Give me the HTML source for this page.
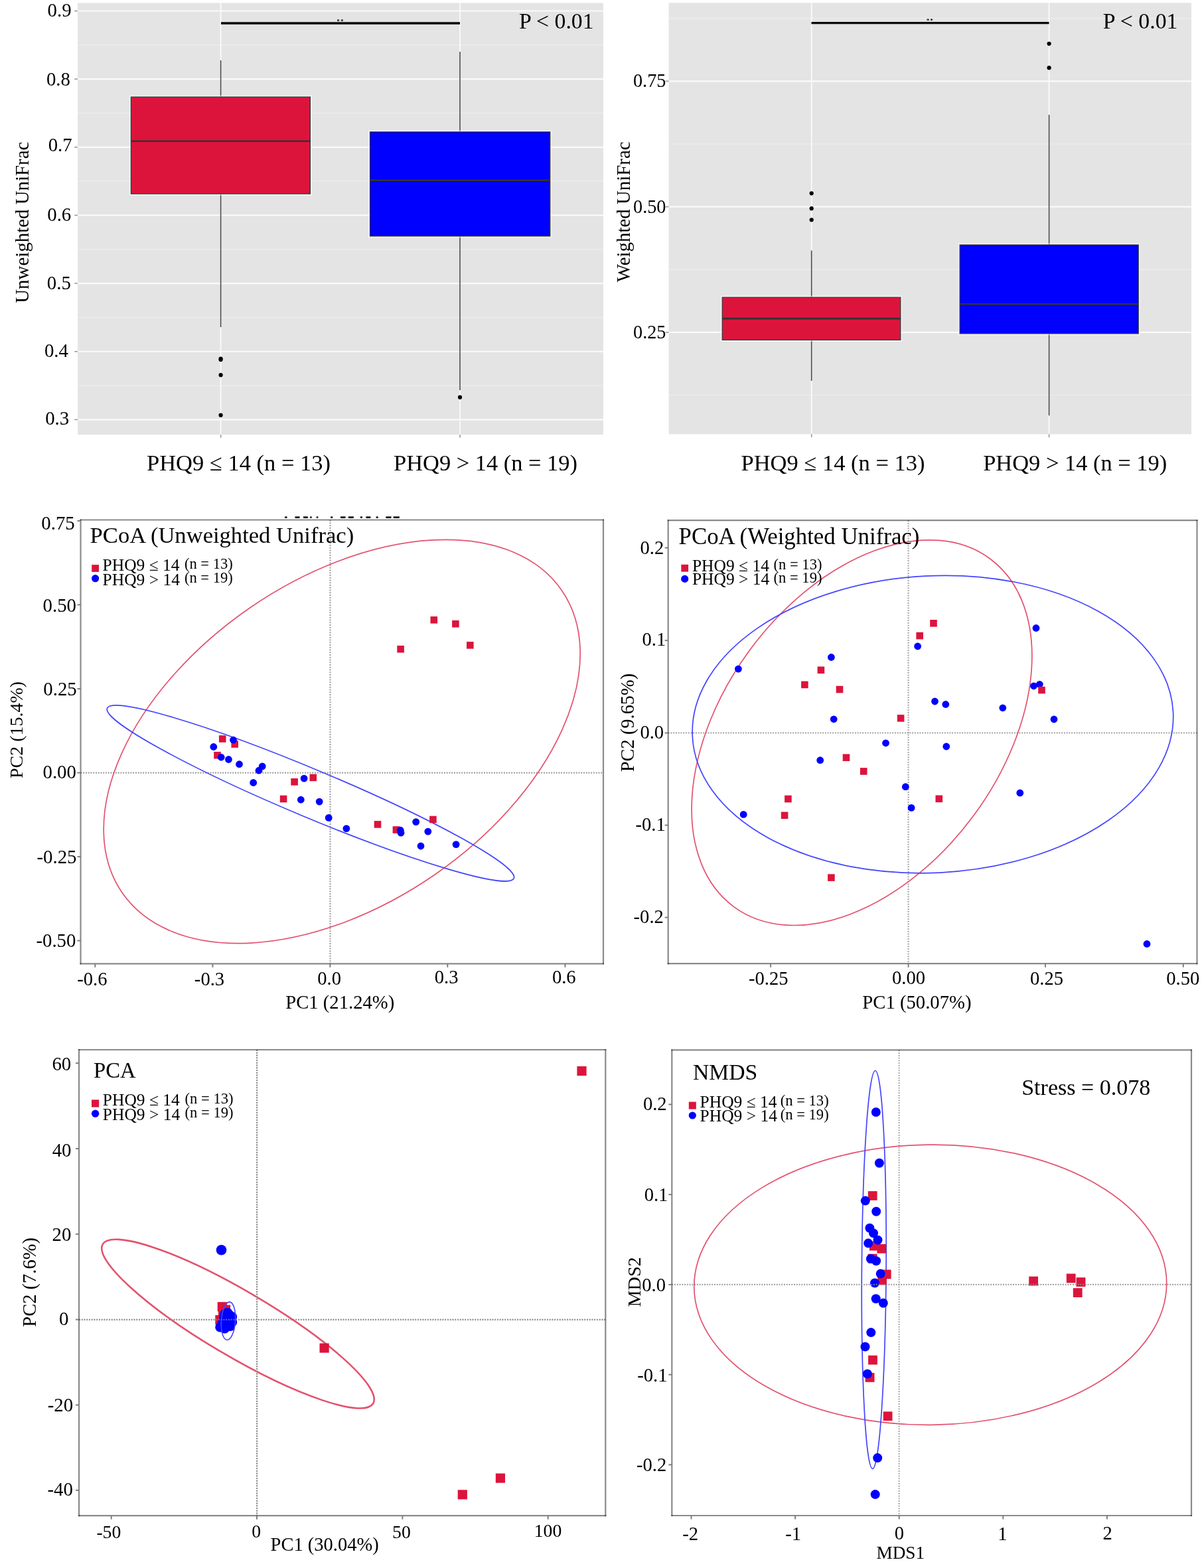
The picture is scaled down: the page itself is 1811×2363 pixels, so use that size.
<!DOCTYPE html>
<html><head><meta charset="utf-8"><title>Figure</title>
<style>html,body{margin:0;padding:0;background:#fff;} svg{display:block;}</style>
</head><body>
<svg width="1811" height="2363" viewBox="0 0 1811 2363">
<rect width="1811" height="2363" fill="#fff"/>
<g font-family='"Liberation Serif", "Times New Roman", serif' fill="#000">
<rect x="117" y="4.5" width="792" height="650.5" fill="#E4E4E4"/>
<line x1="117.00" y1="67.83" x2="909.00" y2="67.83" stroke="#EEEEEE" stroke-width="1.2" />
<line x1="117.00" y1="170.48" x2="909.00" y2="170.48" stroke="#EEEEEE" stroke-width="1.2" />
<line x1="117.00" y1="273.12" x2="909.00" y2="273.12" stroke="#EEEEEE" stroke-width="1.2" />
<line x1="117.00" y1="375.78" x2="909.00" y2="375.78" stroke="#EEEEEE" stroke-width="1.2" />
<line x1="117.00" y1="478.43" x2="909.00" y2="478.43" stroke="#EEEEEE" stroke-width="1.2" />
<line x1="117.00" y1="581.08" x2="909.00" y2="581.08" stroke="#EEEEEE" stroke-width="1.2" />
<line x1="117.00" y1="16.50" x2="909.00" y2="16.50" stroke="#FAFAFA" stroke-width="2.2" />
<line x1="117.00" y1="119.15" x2="909.00" y2="119.15" stroke="#FAFAFA" stroke-width="2.2" />
<line x1="117.00" y1="221.80" x2="909.00" y2="221.80" stroke="#FAFAFA" stroke-width="2.2" />
<line x1="117.00" y1="324.45" x2="909.00" y2="324.45" stroke="#FAFAFA" stroke-width="2.2" />
<line x1="117.00" y1="427.10" x2="909.00" y2="427.10" stroke="#FAFAFA" stroke-width="2.2" />
<line x1="117.00" y1="529.75" x2="909.00" y2="529.75" stroke="#FAFAFA" stroke-width="2.2" />
<line x1="117.00" y1="632.40" x2="909.00" y2="632.40" stroke="#FAFAFA" stroke-width="2.2" />
<line x1="332.60" y1="4.50" x2="332.60" y2="655.00" stroke="#FAFAFA" stroke-width="1.8" />
<line x1="693.00" y1="4.50" x2="693.00" y2="655.00" stroke="#FAFAFA" stroke-width="1.8" />
<line x1="112.20" y1="16.50" x2="117.00" y2="16.50" stroke="#9a9a9a" stroke-width="1.6" />
<line x1="112.20" y1="119.15" x2="117.00" y2="119.15" stroke="#9a9a9a" stroke-width="1.6" />
<line x1="112.20" y1="221.80" x2="117.00" y2="221.80" stroke="#9a9a9a" stroke-width="1.6" />
<line x1="112.20" y1="324.45" x2="117.00" y2="324.45" stroke="#9a9a9a" stroke-width="1.6" />
<line x1="112.20" y1="427.10" x2="117.00" y2="427.10" stroke="#9a9a9a" stroke-width="1.6" />
<line x1="112.20" y1="529.75" x2="117.00" y2="529.75" stroke="#9a9a9a" stroke-width="1.6" />
<line x1="112.20" y1="632.40" x2="117.00" y2="632.40" stroke="#9a9a9a" stroke-width="1.6" />
<line x1="332.60" y1="655.00" x2="332.60" y2="659.80" stroke="#9a9a9a" stroke-width="1.6" />
<line x1="693.00" y1="655.00" x2="693.00" y2="659.80" stroke="#9a9a9a" stroke-width="1.6" />
<text x="71.59" y="24.50" font-size="30.0" textLength="36.00" lengthAdjust="spacingAndGlyphs">0.9</text>
<text x="69.90" y="129.40" font-size="30.0" textLength="36.00" lengthAdjust="spacingAndGlyphs">0.8</text>
<text x="72.66" y="228.40" font-size="30.0" textLength="36.00" lengthAdjust="spacingAndGlyphs">0.7</text>
<text x="71.24" y="332.75" font-size="30.0" textLength="36.00" lengthAdjust="spacingAndGlyphs">0.6</text>
<text x="70.79" y="435.50" font-size="30.0" textLength="36.00" lengthAdjust="spacingAndGlyphs">0.5</text>
<text x="66.93" y="537.60" font-size="30.0" textLength="36.00" lengthAdjust="spacingAndGlyphs">0.4</text>
<text x="68.14" y="639.55" font-size="30.0" textLength="36.00" lengthAdjust="spacingAndGlyphs">0.3</text>
<line x1="332.60" y1="91.00" x2="332.60" y2="146.10" stroke="#4a4a4a" stroke-width="1.6" />
<line x1="332.60" y1="292.10" x2="332.60" y2="493.00" stroke="#4a4a4a" stroke-width="1.6" />
<rect x="197.40" y="146.10" width="270.00" height="146.00" fill="none" stroke="#fff" stroke-width="5" stroke-opacity="0.5"/>
<rect x="197.40" y="146.10" width="270.00" height="146.00" fill="#DC143C" stroke="#333" stroke-width="1.2"/>
<line x1="197.40" y1="212.70" x2="467.40" y2="212.70" stroke="#333" stroke-width="2.6" />
<circle cx="332.60" cy="540.60" r="3.1" fill="#000"/>
<circle cx="332.60" cy="542.00" r="3.1" fill="#000"/>
<circle cx="332.60" cy="565.20" r="3.1" fill="#000"/>
<circle cx="332.60" cy="625.70" r="3.1" fill="#000"/>
<line x1="693.00" y1="78.00" x2="693.00" y2="198.80" stroke="#4a4a4a" stroke-width="1.6" />
<line x1="693.00" y1="355.90" x2="693.00" y2="588.00" stroke="#4a4a4a" stroke-width="1.6" />
<rect x="557.50" y="198.80" width="271.30" height="157.10" fill="none" stroke="#fff" stroke-width="5" stroke-opacity="0.5"/>
<rect x="557.50" y="198.80" width="271.30" height="157.10" fill="#0000FF" stroke="#333" stroke-width="1.2"/>
<line x1="557.50" y1="271.70" x2="828.80" y2="271.70" stroke="#333" stroke-width="2.6" />
<circle cx="693.00" cy="598.70" r="3.1" fill="#000"/>
<line x1="333.00" y1="35.00" x2="693.00" y2="35.00" stroke="#0a0a0a" stroke-width="3.3" />
<text x="507.6" y="34.9" font-size="8.5" text-anchor="start" font-weight="bold" letter-spacing="1.4">**</text>
<text x="782.0" y="43.4" font-size="33.8" text-anchor="start" >P &lt; 0.01</text>
<text x="43.1" y="335.2" font-size="28.9" text-anchor="middle" transform="rotate(-90 43.1 335.2)" >Unweighted UniFrac</text>
<text x="221.0" y="708.6" font-size="34.5" text-anchor="start" >PHQ9 ≤ 14 (n = 13)</text>
<text x="593.0" y="708.6" font-size="34.45" text-anchor="start" >PHQ9 &gt; 14 (n = 19)</text>
<rect x="1007.5" y="4.3" width="787.5" height="650.0" fill="#E4E4E4"/>
<line x1="1007.50" y1="27.60" x2="1795.00" y2="27.60" stroke="#EEEEEE" stroke-width="1.2" />
<line x1="1007.50" y1="217.00" x2="1795.00" y2="217.00" stroke="#EEEEEE" stroke-width="1.2" />
<line x1="1007.50" y1="406.20" x2="1795.00" y2="406.20" stroke="#EEEEEE" stroke-width="1.2" />
<line x1="1007.50" y1="595.50" x2="1795.00" y2="595.50" stroke="#EEEEEE" stroke-width="1.2" />
<line x1="1007.50" y1="122.30" x2="1795.00" y2="122.30" stroke="#FAFAFA" stroke-width="2.2" />
<line x1="1007.50" y1="311.60" x2="1795.00" y2="311.60" stroke="#FAFAFA" stroke-width="2.2" />
<line x1="1007.50" y1="500.90" x2="1795.00" y2="500.90" stroke="#FAFAFA" stroke-width="2.2" />
<line x1="1222.70" y1="4.30" x2="1222.70" y2="654.30" stroke="#FAFAFA" stroke-width="1.8" />
<line x1="1580.60" y1="4.30" x2="1580.60" y2="654.30" stroke="#FAFAFA" stroke-width="1.8" />
<line x1="1002.70" y1="122.30" x2="1007.50" y2="122.30" stroke="#9a9a9a" stroke-width="1.6" />
<line x1="1002.70" y1="311.60" x2="1007.50" y2="311.60" stroke="#9a9a9a" stroke-width="1.6" />
<line x1="1002.70" y1="500.90" x2="1007.50" y2="500.90" stroke="#9a9a9a" stroke-width="1.6" />
<line x1="1222.70" y1="654.30" x2="1222.70" y2="659.10" stroke="#9a9a9a" stroke-width="1.6" />
<line x1="1580.60" y1="654.30" x2="1580.60" y2="659.10" stroke="#9a9a9a" stroke-width="1.6" />
<text x="953.99" y="130.56" font-size="29.4" textLength="49.39" lengthAdjust="spacingAndGlyphs">0.75</text>
<text x="954.05" y="321.26" font-size="29.4" textLength="49.39" lengthAdjust="spacingAndGlyphs">0.50</text>
<text x="954.09" y="510.06" font-size="29.4" textLength="49.39" lengthAdjust="spacingAndGlyphs">0.25</text>
<line x1="1222.70" y1="377.60" x2="1222.70" y2="448.10" stroke="#4a4a4a" stroke-width="1.6" />
<line x1="1222.70" y1="512.30" x2="1222.70" y2="573.80" stroke="#4a4a4a" stroke-width="1.6" />
<rect x="1088.20" y="448.10" width="268.60" height="64.20" fill="none" stroke="#fff" stroke-width="5" stroke-opacity="0.5"/>
<rect x="1088.20" y="448.10" width="268.60" height="64.20" fill="#DC143C" stroke="#333" stroke-width="1.2"/>
<line x1="1088.20" y1="480.10" x2="1356.80" y2="480.10" stroke="#333" stroke-width="2.6" />
<circle cx="1222.70" cy="291.30" r="3.1" fill="#000"/>
<circle cx="1222.70" cy="314.20" r="3.1" fill="#000"/>
<circle cx="1222.70" cy="331.30" r="3.1" fill="#000"/>
<line x1="1580.60" y1="173.00" x2="1580.60" y2="369.00" stroke="#4a4a4a" stroke-width="1.6" />
<line x1="1580.60" y1="502.80" x2="1580.60" y2="626.20" stroke="#4a4a4a" stroke-width="1.6" />
<rect x="1446.10" y="369.00" width="269.10" height="133.80" fill="none" stroke="#fff" stroke-width="5" stroke-opacity="0.5"/>
<rect x="1446.10" y="369.00" width="269.10" height="133.80" fill="#0000FF" stroke="#333" stroke-width="1.2"/>
<line x1="1446.10" y1="458.20" x2="1715.20" y2="458.20" stroke="#333" stroke-width="2.6" />
<circle cx="1580.60" cy="65.80" r="3.1" fill="#000"/>
<circle cx="1580.60" cy="102.20" r="3.1" fill="#000"/>
<line x1="1222.50" y1="34.60" x2="1580.50" y2="34.60" stroke="#0a0a0a" stroke-width="3.3" />
<text x="1395.9" y="34.4" font-size="8.5" text-anchor="start" font-weight="bold" letter-spacing="1.4">**</text>
<text x="1661.8" y="42.9" font-size="33.8" text-anchor="start" >P &lt; 0.01</text>
<text x="948.8" y="319.3" font-size="28.9" text-anchor="middle" transform="rotate(-90 948.8 319.3)" >Weighted UniFrac</text>
<text x="1116.5" y="708.6" font-size="34.5" text-anchor="start" >PHQ9 ≤ 14 (n = 13)</text>
<text x="1481.2" y="708.6" font-size="34.45" text-anchor="start" >PHQ9 &gt; 14 (n = 19)</text>
<clipPath id="c3"><rect x="121.5" y="783.5" width="787.5" height="668.8"/></clipPath>
<clipPath id="c4"><rect x="1006.7" y="784.2" width="796.8" height="668"/></clipPath>
<clipPath id="c5"><rect x="119" y="1582" width="793.3" height="702.2"/></clipPath>
<clipPath id="c6"><rect x="1012.3" y="1582.4" width="782.7" height="701.6"/></clipPath>
<line x1="497.50" y1="783.50" x2="497.50" y2="1452.30" stroke="#9c9c9c" stroke-width="2.1" stroke-dasharray="1.9 1.85"/>
<line x1="121.50" y1="1164.60" x2="909.00" y2="1164.60" stroke="#9c9c9c" stroke-width="2.1" stroke-dasharray="1.9 1.85"/>
<g clip-path="url(#c3)">
<ellipse cx="515.19" cy="1117.48" rx="401.94" ry="244.57" transform="rotate(-34.52 515.19 1117.48)" fill="none" stroke="#E3526E" stroke-width="1.7"/>
<ellipse cx="467.89" cy="1195.45" rx="36.04" ry="332.12" transform="rotate(-67.29 467.89 1195.45)" fill="none" stroke="#4444FF" stroke-width="1.7"/>
<rect x="329.90" y="1108.20" width="10.6" height="10.6" fill="#DC143C"/>
<rect x="348.40" y="1116.20" width="10.6" height="10.6" fill="#DC143C"/>
<rect x="322.20" y="1132.90" width="10.6" height="10.6" fill="#DC143C"/>
<rect x="438.30" y="1173.00" width="10.6" height="10.6" fill="#DC143C"/>
<rect x="466.50" y="1166.60" width="10.6" height="10.6" fill="#DC143C"/>
<rect x="421.80" y="1198.70" width="10.6" height="10.6" fill="#DC143C"/>
<rect x="648.50" y="929.00" width="10.6" height="10.6" fill="#DC143C"/>
<rect x="681.10" y="934.90" width="10.6" height="10.6" fill="#DC143C"/>
<rect x="598.30" y="973.00" width="10.6" height="10.6" fill="#DC143C"/>
<rect x="703.00" y="967.10" width="10.6" height="10.6" fill="#DC143C"/>
<rect x="563.70" y="1237.10" width="10.6" height="10.6" fill="#DC143C"/>
<rect x="591.60" y="1245.20" width="10.6" height="10.6" fill="#DC143C"/>
<rect x="647.10" y="1229.70" width="10.6" height="10.6" fill="#DC143C"/>
<circle cx="351.50" cy="1115.20" r="5.4" fill="#0000FF"/>
<circle cx="321.80" cy="1125.50" r="5.4" fill="#0000FF"/>
<circle cx="333.20" cy="1141.20" r="5.4" fill="#0000FF"/>
<circle cx="344.40" cy="1144.50" r="5.4" fill="#0000FF"/>
<circle cx="360.50" cy="1151.70" r="5.4" fill="#0000FF"/>
<circle cx="395.20" cy="1154.90" r="5.4" fill="#0000FF"/>
<circle cx="390.00" cy="1161.20" r="5.4" fill="#0000FF"/>
<circle cx="381.70" cy="1179.50" r="5.4" fill="#0000FF"/>
<circle cx="458.10" cy="1173.10" r="5.4" fill="#0000FF"/>
<circle cx="495.20" cy="1232.40" r="5.4" fill="#0000FF"/>
<circle cx="453.30" cy="1205.20" r="5.4" fill="#0000FF"/>
<circle cx="481.20" cy="1208.10" r="5.4" fill="#0000FF"/>
<circle cx="521.90" cy="1248.60" r="5.4" fill="#0000FF"/>
<circle cx="603.30" cy="1251.20" r="5.4" fill="#0000FF"/>
<circle cx="604.00" cy="1255.20" r="5.4" fill="#0000FF"/>
<circle cx="626.70" cy="1238.60" r="5.4" fill="#0000FF"/>
<circle cx="644.80" cy="1253.10" r="5.4" fill="#0000FF"/>
<circle cx="634.00" cy="1275.00" r="5.4" fill="#0000FF"/>
<circle cx="687.10" cy="1272.60" r="5.4" fill="#0000FF"/>
</g>
<line x1="120.50" y1="783.50" x2="910.00" y2="783.50" stroke="#000" stroke-width="2.2" stroke-opacity="0.46"/>
<line x1="909.00" y1="782.50" x2="909.00" y2="1453.30" stroke="#000" stroke-width="2.2" stroke-opacity="0.46"/>
<line x1="910.00" y1="1452.30" x2="120.50" y2="1452.30" stroke="#000" stroke-width="2.2" stroke-opacity="0.46"/>
<line x1="121.50" y1="1453.30" x2="121.50" y2="782.50" stroke="#000" stroke-width="2.2" stroke-opacity="0.46"/>
<line x1="116.50" y1="784.90" x2="121.50" y2="784.90" stroke="#7a7a7a" stroke-width="1.9" />
<line x1="116.50" y1="911.40" x2="121.50" y2="911.40" stroke="#7a7a7a" stroke-width="1.9" />
<line x1="116.50" y1="1038.00" x2="121.50" y2="1038.00" stroke="#7a7a7a" stroke-width="1.9" />
<line x1="116.50" y1="1164.60" x2="121.50" y2="1164.60" stroke="#7a7a7a" stroke-width="1.9" />
<line x1="116.50" y1="1291.10" x2="121.50" y2="1291.10" stroke="#7a7a7a" stroke-width="1.9" />
<line x1="116.50" y1="1417.60" x2="121.50" y2="1417.60" stroke="#7a7a7a" stroke-width="1.9" />
<line x1="143.30" y1="1452.30" x2="143.30" y2="1457.80" stroke="#7a7a7a" stroke-width="1.9" />
<line x1="320.40" y1="1452.30" x2="320.40" y2="1457.80" stroke="#7a7a7a" stroke-width="1.9" />
<line x1="497.40" y1="1452.30" x2="497.40" y2="1457.80" stroke="#7a7a7a" stroke-width="1.9" />
<line x1="674.30" y1="1452.30" x2="674.30" y2="1457.80" stroke="#7a7a7a" stroke-width="1.9" />
<line x1="851.50" y1="1452.30" x2="851.50" y2="1457.80" stroke="#7a7a7a" stroke-width="1.9" />
<text x="62.35" y="797.75" font-size="30.3" textLength="50.37" lengthAdjust="spacingAndGlyphs">0.75</text>
<text x="64.56" y="921.65" font-size="30.3" textLength="50.37" lengthAdjust="spacingAndGlyphs">0.50</text>
<text x="65.35" y="1048.25" font-size="30.3" textLength="50.37" lengthAdjust="spacingAndGlyphs">0.25</text>
<text x="64.51" y="1172.90" font-size="30.3" textLength="50.37" lengthAdjust="spacingAndGlyphs">0.00</text>
<text x="55.51" y="1301.00" font-size="30.3" textLength="59.96" lengthAdjust="spacingAndGlyphs">-0.25</text>
<text x="54.43" y="1427.35" font-size="30.3" textLength="59.96" lengthAdjust="spacingAndGlyphs">-0.50</text>
<text x="116.27" y="1484.68" font-size="30.1" textLength="45.27" lengthAdjust="spacingAndGlyphs">-0.6</text>
<text x="292.86" y="1484.93" font-size="30.1" textLength="45.27" lengthAdjust="spacingAndGlyphs">-0.3</text>
<text x="478.33" y="1483.73" font-size="30.1" textLength="35.74" lengthAdjust="spacingAndGlyphs">0.0</text>
<text x="654.81" y="1482.03" font-size="30.1" textLength="35.74" lengthAdjust="spacingAndGlyphs">0.3</text>
<text x="831.92" y="1481.68" font-size="30.1" textLength="35.74" lengthAdjust="spacingAndGlyphs">0.6</text>
<text x="430.3" y="1519.6" font-size="28.65" text-anchor="start" >PC1 (21.24%)</text>
<text x="33.5" y="1100.0" font-size="28.0" text-anchor="middle" transform="rotate(-90 33.5 1100.0)" >PC2 (15.4%)</text>
<text x="135.6" y="818.0" font-size="34.6" text-anchor="start" >PCoA (Unweighted Unifrac)</text>
<rect x="138.20" y="851.10" width="10.8" height="10.8" fill="#DC143C"/>
<circle cx="143.60" cy="871.70" r="5.6" fill="#0000FF"/>
<text x="154.6" y="860.3" font-size="25.5" text-anchor="start" >PHQ9 ≤ 14</text>
<text x="154.6" y="881.5" font-size="25.5" text-anchor="start" >PHQ9 &gt; 14</text>
<text x="277.9" y="857.3" font-size="22.5" text-anchor="start" textLength="73" lengthAdjust="spacingAndGlyphs">(n = 13)</text>
<text x="277.9" y="878.0" font-size="22.5" text-anchor="start" textLength="73" lengthAdjust="spacingAndGlyphs">(n = 19)</text>
<line x1="430.2" y1="779.6" x2="431.5" y2="779.6" stroke="#1a1a1a" stroke-width="2.6" stroke-linecap="round"/>
<line x1="445.5" y1="779.6" x2="450.5" y2="779.6" stroke="#1a1a1a" stroke-width="2.6" stroke-linecap="round"/>
<line x1="458.0" y1="779.6" x2="462.9" y2="779.6" stroke="#1a1a1a" stroke-width="2.6" stroke-linecap="round"/>
<line x1="468.2" y1="779.6" x2="468.6" y2="779.6" stroke="#1a1a1a" stroke-width="2.6" stroke-linecap="round"/>
<line x1="477.8" y1="779.6" x2="478.2" y2="779.6" stroke="#1a1a1a" stroke-width="2.6" stroke-linecap="round"/>
<line x1="499.2" y1="779.6" x2="500.2" y2="779.6" stroke="#1a1a1a" stroke-width="2.6" stroke-linecap="round"/>
<line x1="514.0" y1="779.6" x2="519.5" y2="779.6" stroke="#1a1a1a" stroke-width="2.6" stroke-linecap="round"/>
<line x1="525.8" y1="779.6" x2="531.9" y2="779.6" stroke="#1a1a1a" stroke-width="2.6" stroke-linecap="round"/>
<line x1="543.9" y1="779.6" x2="544.9" y2="779.6" stroke="#1a1a1a" stroke-width="2.6" stroke-linecap="round"/>
<line x1="552.4" y1="779.6" x2="557.4" y2="779.6" stroke="#1a1a1a" stroke-width="2.6" stroke-linecap="round"/>
<line x1="567.7" y1="779.6" x2="568.7" y2="779.6" stroke="#1a1a1a" stroke-width="2.6" stroke-linecap="round"/>
<line x1="582.4" y1="779.6" x2="588.5" y2="779.6" stroke="#1a1a1a" stroke-width="2.6" stroke-linecap="round"/>
<line x1="593.7" y1="779.6" x2="600.9" y2="779.6" stroke="#1a1a1a" stroke-width="2.6" stroke-linecap="round"/>
<line x1="1368.60" y1="784.20" x2="1368.60" y2="1452.20" stroke="#9c9c9c" stroke-width="2.1" stroke-dasharray="1.9 1.85"/>
<line x1="1006.70" y1="1104.50" x2="1803.50" y2="1104.50" stroke="#9c9c9c" stroke-width="2.1" stroke-dasharray="1.9 1.85"/>
<g clip-path="url(#c4)">
<ellipse cx="1298.48" cy="1104.15" rx="209.75" ry="325.62" transform="rotate(-143.70 1298.48 1104.15)" fill="none" stroke="#E3526E" stroke-width="1.7"/>
<ellipse cx="1405.42" cy="1091.56" rx="362.59" ry="223.77" transform="rotate(-2.92 1405.42 1091.56)" fill="none" stroke="#4444FF" stroke-width="1.7"/>
<circle cx="1112.40" cy="1008.10" r="5.4" fill="#0000FF"/>
<circle cx="1252.40" cy="990.50" r="5.4" fill="#0000FF"/>
<circle cx="1256.20" cy="1083.80" r="5.4" fill="#0000FF"/>
<circle cx="1382.60" cy="974.00" r="5.4" fill="#0000FF"/>
<circle cx="1561.00" cy="946.50" r="5.4" fill="#0000FF"/>
<circle cx="1557.50" cy="1033.80" r="5.4" fill="#0000FF"/>
<circle cx="1566.30" cy="1031.30" r="5.4" fill="#0000FF"/>
<circle cx="1408.50" cy="1057.00" r="5.4" fill="#0000FF"/>
<circle cx="1424.80" cy="1061.50" r="5.4" fill="#0000FF"/>
<circle cx="1510.80" cy="1066.80" r="5.4" fill="#0000FF"/>
<circle cx="1588.00" cy="1084.00" r="5.4" fill="#0000FF"/>
<circle cx="1235.70" cy="1145.70" r="5.4" fill="#0000FF"/>
<circle cx="1334.50" cy="1119.80" r="5.4" fill="#0000FF"/>
<circle cx="1364.30" cy="1185.70" r="5.4" fill="#0000FF"/>
<circle cx="1373.10" cy="1217.40" r="5.4" fill="#0000FF"/>
<circle cx="1120.20" cy="1227.40" r="5.4" fill="#0000FF"/>
<circle cx="1425.80" cy="1125.00" r="5.4" fill="#0000FF"/>
<circle cx="1536.80" cy="1195.00" r="5.4" fill="#0000FF"/>
<circle cx="1728.00" cy="1422.50" r="5.4" fill="#0000FF"/>
<rect x="1231.60" y="1004.50" width="10.6" height="10.6" fill="#DC143C"/>
<rect x="1207.10" y="1026.60" width="10.6" height="10.6" fill="#DC143C"/>
<rect x="1259.70" y="1033.70" width="10.6" height="10.6" fill="#DC143C"/>
<rect x="1351.80" y="1077.10" width="10.6" height="10.6" fill="#DC143C"/>
<rect x="1380.40" y="952.80" width="10.6" height="10.6" fill="#DC143C"/>
<rect x="1401.20" y="934.00" width="10.6" height="10.6" fill="#DC143C"/>
<rect x="1564.20" y="1034.70" width="10.6" height="10.6" fill="#DC143C"/>
<rect x="1269.70" y="1136.40" width="10.6" height="10.6" fill="#DC143C"/>
<rect x="1295.90" y="1157.10" width="10.6" height="10.6" fill="#DC143C"/>
<rect x="1182.10" y="1198.70" width="10.6" height="10.6" fill="#DC143C"/>
<rect x="1176.80" y="1223.50" width="10.6" height="10.6" fill="#DC143C"/>
<rect x="1247.10" y="1317.30" width="10.6" height="10.6" fill="#DC143C"/>
<rect x="1409.50" y="1198.50" width="10.6" height="10.6" fill="#DC143C"/>
</g>
<line x1="1005.70" y1="784.20" x2="1804.50" y2="784.20" stroke="#000" stroke-width="2.2" stroke-opacity="0.46"/>
<line x1="1803.50" y1="783.20" x2="1803.50" y2="1453.20" stroke="#000" stroke-width="2.2" stroke-opacity="0.46"/>
<line x1="1804.50" y1="1452.20" x2="1005.70" y2="1452.20" stroke="#000" stroke-width="2.2" stroke-opacity="0.46"/>
<line x1="1006.70" y1="1453.20" x2="1006.70" y2="783.20" stroke="#000" stroke-width="2.2" stroke-opacity="0.46"/>
<line x1="1001.70" y1="825.50" x2="1006.70" y2="825.50" stroke="#7a7a7a" stroke-width="1.9" />
<line x1="1001.70" y1="965.20" x2="1006.70" y2="965.20" stroke="#7a7a7a" stroke-width="1.9" />
<line x1="1001.70" y1="1104.60" x2="1006.70" y2="1104.60" stroke="#7a7a7a" stroke-width="1.9" />
<line x1="1001.70" y1="1243.60" x2="1006.70" y2="1243.60" stroke="#7a7a7a" stroke-width="1.9" />
<line x1="1001.70" y1="1382.60" x2="1006.70" y2="1382.60" stroke="#7a7a7a" stroke-width="1.9" />
<line x1="1161.10" y1="1452.20" x2="1161.10" y2="1457.70" stroke="#7a7a7a" stroke-width="1.9" />
<line x1="1368.60" y1="1452.20" x2="1368.60" y2="1457.70" stroke="#7a7a7a" stroke-width="1.9" />
<line x1="1575.00" y1="1452.20" x2="1575.00" y2="1457.70" stroke="#7a7a7a" stroke-width="1.9" />
<line x1="1782.80" y1="1452.20" x2="1782.80" y2="1457.70" stroke="#7a7a7a" stroke-width="1.9" />
<text x="964.53" y="835.08" font-size="30.1" textLength="35.74" lengthAdjust="spacingAndGlyphs">0.2</text>
<text x="967.55" y="972.88" font-size="30.1" textLength="35.74" lengthAdjust="spacingAndGlyphs">0.1</text>
<text x="964.38" y="1112.58" font-size="30.1" textLength="35.74" lengthAdjust="spacingAndGlyphs">0.0</text>
<text x="957.45" y="1251.93" font-size="30.1" textLength="45.27" lengthAdjust="spacingAndGlyphs">-0.1</text>
<text x="954.60" y="1391.38" font-size="30.1" textLength="45.27" lengthAdjust="spacingAndGlyphs">-0.2</text>
<text x="1128.00" y="1483.63" font-size="29.8" textLength="59.59" lengthAdjust="spacingAndGlyphs">-0.25</text>
<text x="1343.97" y="1483.18" font-size="29.8" textLength="50.06" lengthAdjust="spacingAndGlyphs">0.00</text>
<text x="1551.95" y="1483.63" font-size="29.8" textLength="50.06" lengthAdjust="spacingAndGlyphs">0.25</text>
<text x="1757.27" y="1484.43" font-size="29.8" textLength="50.06" lengthAdjust="spacingAndGlyphs">0.50</text>
<text x="1299.3" y="1519.7" font-size="28.7" text-anchor="start" >PC1 (50.07%)</text>
<text x="955.3" y="1089.0" font-size="28.45" text-anchor="middle" transform="rotate(-90 955.3 1089.0)" >PC2 (9.65%)</text>
<text x="1022.6" y="820.0" font-size="34.85" text-anchor="start" >PCoA (Weighted Unifrac)</text>
<rect x="1026.30" y="850.80" width="10.8" height="10.8" fill="#DC143C"/>
<circle cx="1031.70" cy="872.40" r="5.6" fill="#0000FF"/>
<text x="1042.9" y="860.5" font-size="25.5" text-anchor="start" >PHQ9 ≤ 14</text>
<text x="1042.9" y="881.4" font-size="25.5" text-anchor="start" >PHQ9 &gt; 14</text>
<text x="1165.5" y="857.5" font-size="22.5" text-anchor="start" textLength="73" lengthAdjust="spacingAndGlyphs">(n = 13)</text>
<text x="1165.5" y="877.9" font-size="22.5" text-anchor="start" textLength="73" lengthAdjust="spacingAndGlyphs">(n = 19)</text>
<line x1="387.10" y1="1582.00" x2="387.10" y2="2284.20" stroke="#9c9c9c" stroke-width="2.1" stroke-dasharray="1.9 1.85"/>
<line x1="119.00" y1="1988.70" x2="912.30" y2="1988.70" stroke="#9c9c9c" stroke-width="2.1" stroke-dasharray="1.9 1.85"/>
<g clip-path="url(#c5)">
<ellipse cx="358.49" cy="1995.03" rx="49.23" ry="236.44" transform="rotate(-59.51 358.49 1995.03)" fill="none" stroke="#E3526E" stroke-width="2.6"/>
<rect x="869.40" y="1606.90" width="14.2" height="14.2" fill="#DC143C"/>
<rect x="689.70" y="2245.30" width="14.2" height="14.2" fill="#DC143C"/>
<rect x="746.80" y="2220.50" width="14.2" height="14.2" fill="#DC143C"/>
<rect x="481.50" y="2024.40" width="14.2" height="14.2" fill="#DC143C"/>
<rect x="327.70" y="1962.20" width="14.2" height="14.2" fill="#DC143C"/>
<rect x="324.30" y="1981.90" width="14.2" height="14.2" fill="#DC143C"/>
<rect x="332.90" y="1966.60" width="14.2" height="14.2" fill="#DC143C"/>
<rect x="337.80" y="1991.10" width="14.2" height="14.2" fill="#DC143C"/>
<rect x="332.90" y="1982.90" width="14.2" height="14.2" fill="#DC143C"/>
<rect x="337.90" y="1977.90" width="14.2" height="14.2" fill="#DC143C"/>
<rect x="330.90" y="1987.90" width="14.2" height="14.2" fill="#DC143C"/>
<rect x="335.90" y="1985.90" width="14.2" height="14.2" fill="#DC143C"/>
<rect x="328.90" y="1975.90" width="14.2" height="14.2" fill="#DC143C"/>
<circle cx="333.50" cy="1883.80" r="7.8" fill="#0000FF"/>
<circle cx="342.90" cy="1978.50" r="7.6" fill="#0000FF"/>
<circle cx="349.60" cy="1984.50" r="7.6" fill="#0000FF"/>
<circle cx="349.60" cy="1992.50" r="7.6" fill="#0000FF"/>
<circle cx="346.50" cy="1998.50" r="7.6" fill="#0000FF"/>
<circle cx="338.50" cy="2002.00" r="7.6" fill="#0000FF"/>
<circle cx="331.80" cy="2000.00" r="7.6" fill="#0000FF"/>
<circle cx="340.00" cy="1992.00" r="7.6" fill="#0000FF"/>
<circle cx="337.50" cy="1985.00" r="7.6" fill="#0000FF"/>
<circle cx="344.00" cy="1988.00" r="7.6" fill="#0000FF"/>
<circle cx="335.00" cy="1994.00" r="7.6" fill="#0000FF"/>
<circle cx="343.00" cy="1996.00" r="7.6" fill="#0000FF"/>
<circle cx="346.00" cy="1982.00" r="7.6" fill="#0000FF"/>
<circle cx="339.00" cy="1980.00" r="7.6" fill="#0000FF"/>
<ellipse cx="344" cy="1990.7" rx="10.6" ry="28.6" transform="rotate(4 344 1990.7)" fill="none" stroke="#4444FF" stroke-width="1.6"/>
</g>
<line x1="387.10" y1="1582.00" x2="387.10" y2="2284.20" stroke="#8a8a8a" stroke-width="2.1" stroke-dasharray="1.9 1.85" opacity="0.8"/>
<line x1="119.00" y1="1988.70" x2="912.30" y2="1988.70" stroke="#8a8a8a" stroke-width="2.1" stroke-dasharray="1.9 1.85" opacity="0.8"/>
<line x1="118.00" y1="1582.00" x2="913.30" y2="1582.00" stroke="#000" stroke-width="2.2" stroke-opacity="0.46"/>
<line x1="912.30" y1="1581.00" x2="912.30" y2="2285.20" stroke="#000" stroke-width="2.2" stroke-opacity="0.46"/>
<line x1="913.30" y1="2284.20" x2="118.00" y2="2284.20" stroke="#000" stroke-width="2.2" stroke-opacity="0.46"/>
<line x1="119.00" y1="2285.20" x2="119.00" y2="1581.00" stroke="#000" stroke-width="2.2" stroke-opacity="0.46"/>
<line x1="114.00" y1="1602.20" x2="119.00" y2="1602.20" stroke="#7a7a7a" stroke-width="1.9" />
<line x1="114.00" y1="1731.00" x2="119.00" y2="1731.00" stroke="#7a7a7a" stroke-width="1.9" />
<line x1="114.00" y1="1859.80" x2="119.00" y2="1859.80" stroke="#7a7a7a" stroke-width="1.9" />
<line x1="114.00" y1="1988.60" x2="119.00" y2="1988.60" stroke="#7a7a7a" stroke-width="1.9" />
<line x1="114.00" y1="2117.40" x2="119.00" y2="2117.40" stroke="#7a7a7a" stroke-width="1.9" />
<line x1="114.00" y1="2245.80" x2="119.00" y2="2245.80" stroke="#7a7a7a" stroke-width="1.9" />
<line x1="167.70" y1="2284.20" x2="167.70" y2="2289.70" stroke="#7a7a7a" stroke-width="1.9" />
<line x1="387.00" y1="2284.20" x2="387.00" y2="2289.70" stroke="#7a7a7a" stroke-width="1.9" />
<line x1="606.40" y1="2284.20" x2="606.40" y2="2289.70" stroke="#7a7a7a" stroke-width="1.9" />
<line x1="825.70" y1="2284.20" x2="825.70" y2="2289.70" stroke="#7a7a7a" stroke-width="1.9" />
<text x="78.38" y="1612.73" font-size="30.0" textLength="28.80" lengthAdjust="spacingAndGlyphs">60</text>
<text x="78.70" y="1743.48" font-size="30.0" textLength="28.80" lengthAdjust="spacingAndGlyphs">40</text>
<text x="78.53" y="1870.12" font-size="30.0" textLength="28.80" lengthAdjust="spacingAndGlyphs">20</text>
<text x="89.00" y="1996.73" font-size="30.0" textLength="14.40" lengthAdjust="spacingAndGlyphs">0</text>
<text x="71.76" y="2127.38" font-size="30.0" textLength="38.39" lengthAdjust="spacingAndGlyphs">-20</text>
<text x="71.46" y="2253.93" font-size="30.0" textLength="38.39" lengthAdjust="spacingAndGlyphs">-40</text>
<text x="145.39" y="2318.07" font-size="27.7" textLength="36.92" lengthAdjust="spacingAndGlyphs">-50</text>
<text x="379.27" y="2317.12" font-size="27.7" textLength="13.85" lengthAdjust="spacingAndGlyphs">0</text>
<text x="591.12" y="2317.57" font-size="27.7" textLength="27.70" lengthAdjust="spacingAndGlyphs">50</text>
<text x="804.73" y="2316.17" font-size="27.7" textLength="41.55" lengthAdjust="spacingAndGlyphs">100</text>
<text x="407.6" y="2337.1" font-size="28.5" text-anchor="start" >PC1 (30.04%)</text>
<text x="54.5" y="1932.4" font-size="28.5" text-anchor="middle" transform="rotate(-90 54.5 1932.4)" >PC2 (7.6%)</text>
<text x="141.0" y="1623.6" font-size="32.7" text-anchor="start" >PCA</text>
<rect x="138.00" y="1657.30" width="11.2" height="11.2" fill="#DC143C"/>
<circle cx="143.60" cy="1678.30" r="5.7" fill="#0000FF"/>
<text x="154.8" y="1666.4" font-size="25.5" text-anchor="start" >PHQ9 ≤ 14</text>
<text x="154.8" y="1687.9" font-size="25.5" text-anchor="start" >PHQ9 &gt; 14</text>
<text x="278.6" y="1663.4" font-size="22.5" text-anchor="start" textLength="73" lengthAdjust="spacingAndGlyphs">(n = 13)</text>
<text x="278.6" y="1684.4" font-size="22.5" text-anchor="start" textLength="73" lengthAdjust="spacingAndGlyphs">(n = 19)</text>
<g clip-path="url(#c6)">
<ellipse cx="1401.74" cy="1936.27" rx="355.96" ry="211.08" transform="rotate(-0.59 1401.74 1936.27)" fill="none" stroke="#E3526E" stroke-width="1.7"/>
<ellipse cx="1316.73" cy="1913.51" rx="18.38" ry="300.00" transform="rotate(-179.61 1316.73 1913.51)" fill="none" stroke="#4444FF" stroke-width="1.7"/>
<rect x="1307.80" y="1795.10" width="13.8" height="13.8" fill="#DC143C"/>
<rect x="1309.90" y="1870.80" width="13.8" height="13.8" fill="#DC143C"/>
<rect x="1321.40" y="1874.90" width="13.8" height="13.8" fill="#DC143C"/>
<rect x="1307.80" y="1889.70" width="13.8" height="13.8" fill="#DC143C"/>
<rect x="1328.80" y="1913.50" width="13.8" height="13.8" fill="#DC143C"/>
<rect x="1322.20" y="1922.50" width="13.8" height="13.8" fill="#DC143C"/>
<rect x="1308.10" y="2042.70" width="13.8" height="13.8" fill="#DC143C"/>
<rect x="1303.70" y="2069.00" width="13.8" height="13.8" fill="#DC143C"/>
<rect x="1330.70" y="2127.30" width="13.8" height="13.8" fill="#DC143C"/>
<rect x="1550.20" y="1923.70" width="13.8" height="13.8" fill="#DC143C"/>
<rect x="1606.80" y="1919.50" width="13.8" height="13.8" fill="#DC143C"/>
<rect x="1621.60" y="1925.20" width="13.8" height="13.8" fill="#DC143C"/>
<rect x="1616.80" y="1941.20" width="13.8" height="13.8" fill="#DC143C"/>
<circle cx="1319.80" cy="1676.00" r="7.0" fill="#0000FF"/>
<circle cx="1324.90" cy="1752.80" r="7.0" fill="#0000FF"/>
<circle cx="1303.80" cy="1809.60" r="7.0" fill="#0000FF"/>
<circle cx="1320.20" cy="1825.70" r="7.0" fill="#0000FF"/>
<circle cx="1310.40" cy="1850.80" r="7.0" fill="#0000FF"/>
<circle cx="1316.00" cy="1858.40" r="7.0" fill="#0000FF"/>
<circle cx="1322.50" cy="1868.70" r="7.0" fill="#0000FF"/>
<circle cx="1308.20" cy="1873.60" r="7.0" fill="#0000FF"/>
<circle cx="1311.90" cy="1897.00" r="7.0" fill="#0000FF"/>
<circle cx="1320.10" cy="1900.30" r="7.0" fill="#0000FF"/>
<circle cx="1326.70" cy="1919.60" r="7.0" fill="#0000FF"/>
<circle cx="1318.00" cy="1933.50" r="7.0" fill="#0000FF"/>
<circle cx="1319.70" cy="1957.20" r="7.0" fill="#0000FF"/>
<circle cx="1330.80" cy="1963.80" r="7.0" fill="#0000FF"/>
<circle cx="1312.30" cy="2008.10" r="7.0" fill="#0000FF"/>
<circle cx="1303.50" cy="2029.50" r="7.0" fill="#0000FF"/>
<circle cx="1306.90" cy="2070.50" r="7.0" fill="#0000FF"/>
<circle cx="1322.20" cy="2197.10" r="7.0" fill="#0000FF"/>
<circle cx="1318.70" cy="2252.10" r="7.0" fill="#0000FF"/>
</g>
<line x1="1354.60" y1="1582.40" x2="1354.60" y2="2284.00" stroke="#8a8a8a" stroke-width="2.1" stroke-dasharray="1.9 1.85" opacity="0.8"/>
<line x1="1012.30" y1="1935.90" x2="1795.00" y2="1935.90" stroke="#8a8a8a" stroke-width="2.1" stroke-dasharray="1.9 1.85" opacity="0.8"/>
<line x1="1011.30" y1="1582.40" x2="1796.00" y2="1582.40" stroke="#000" stroke-width="2.2" stroke-opacity="0.46"/>
<line x1="1795.00" y1="1581.40" x2="1795.00" y2="2285.00" stroke="#000" stroke-width="2.2" stroke-opacity="0.46"/>
<line x1="1796.00" y1="2284.00" x2="1011.30" y2="2284.00" stroke="#000" stroke-width="2.2" stroke-opacity="0.46"/>
<line x1="1012.30" y1="2285.00" x2="1012.30" y2="1581.40" stroke="#000" stroke-width="2.2" stroke-opacity="0.46"/>
<line x1="1007.30" y1="1664.40" x2="1012.30" y2="1664.40" stroke="#7a7a7a" stroke-width="1.9" />
<line x1="1007.30" y1="1800.20" x2="1012.30" y2="1800.20" stroke="#7a7a7a" stroke-width="1.9" />
<line x1="1007.30" y1="1935.90" x2="1012.30" y2="1935.90" stroke="#7a7a7a" stroke-width="1.9" />
<line x1="1007.30" y1="2071.60" x2="1012.30" y2="2071.60" stroke="#7a7a7a" stroke-width="1.9" />
<line x1="1007.30" y1="2207.40" x2="1012.30" y2="2207.40" stroke="#7a7a7a" stroke-width="1.9" />
<line x1="1041.50" y1="2284.00" x2="1041.50" y2="2289.50" stroke="#7a7a7a" stroke-width="1.9" />
<line x1="1198.10" y1="2284.00" x2="1198.10" y2="2289.50" stroke="#7a7a7a" stroke-width="1.9" />
<line x1="1354.70" y1="2284.00" x2="1354.70" y2="2289.50" stroke="#7a7a7a" stroke-width="1.9" />
<line x1="1511.30" y1="2284.00" x2="1511.30" y2="2289.50" stroke="#7a7a7a" stroke-width="1.9" />
<line x1="1667.90" y1="2284.00" x2="1667.90" y2="2289.50" stroke="#7a7a7a" stroke-width="1.9" />
<text x="968.88" y="1673.13" font-size="30.1" textLength="35.74" lengthAdjust="spacingAndGlyphs">0.2</text>
<text x="970.65" y="1810.08" font-size="30.1" textLength="35.74" lengthAdjust="spacingAndGlyphs">0.1</text>
<text x="967.28" y="1945.98" font-size="30.1" textLength="35.74" lengthAdjust="spacingAndGlyphs">0.0</text>
<text x="960.25" y="2081.53" font-size="30.1" textLength="45.27" lengthAdjust="spacingAndGlyphs">-0.1</text>
<text x="958.97" y="2217.28" font-size="30.1" textLength="45.27" lengthAdjust="spacingAndGlyphs">-0.2</text>
<text x="1028.19" y="2320.97" font-size="29.8" textLength="23.83" lengthAdjust="spacingAndGlyphs">-2</text>
<text x="1183.26" y="2320.88" font-size="29.8" textLength="23.83" lengthAdjust="spacingAndGlyphs">-1</text>
<text x="1347.85" y="2320.11" font-size="29.8" textLength="14.30" lengthAdjust="spacingAndGlyphs">0</text>
<text x="1503.15" y="2321.08" font-size="29.8" textLength="14.30" lengthAdjust="spacingAndGlyphs">1</text>
<text x="1661.43" y="2319.82" font-size="29.8" textLength="14.30" lengthAdjust="spacingAndGlyphs">2</text>
<text x="1320.4" y="2349.0" font-size="27.3" text-anchor="start" >MDS1</text>
<text x="965.1" y="1931.9" font-size="28.2" text-anchor="middle" transform="rotate(-90 965.1 1931.9)" >MDS2</text>
<text x="1043.9" y="1626.8" font-size="33.7" text-anchor="start" >NMDS</text>
<text x="1539.2" y="1649.7" font-size="34.05" text-anchor="start" >Stress = 0.078</text>
<rect x="1037.80" y="1660.50" width="11.0" height="11.0" fill="#DC143C"/>
<circle cx="1043.30" cy="1681.00" r="5.6" fill="#0000FF"/>
<text x="1054.6" y="1669.0" font-size="25.5" text-anchor="start" >PHQ9 ≤ 14</text>
<text x="1054.6" y="1690.0" font-size="25.5" text-anchor="start" >PHQ9 &gt; 14</text>
<text x="1175.7" y="1666.0" font-size="22.5" text-anchor="start" textLength="73" lengthAdjust="spacingAndGlyphs">(n = 13)</text>
<text x="1175.7" y="1686.5" font-size="22.5" text-anchor="start" textLength="73" lengthAdjust="spacingAndGlyphs">(n = 19)</text>
</g>
</svg>
</body></html>
